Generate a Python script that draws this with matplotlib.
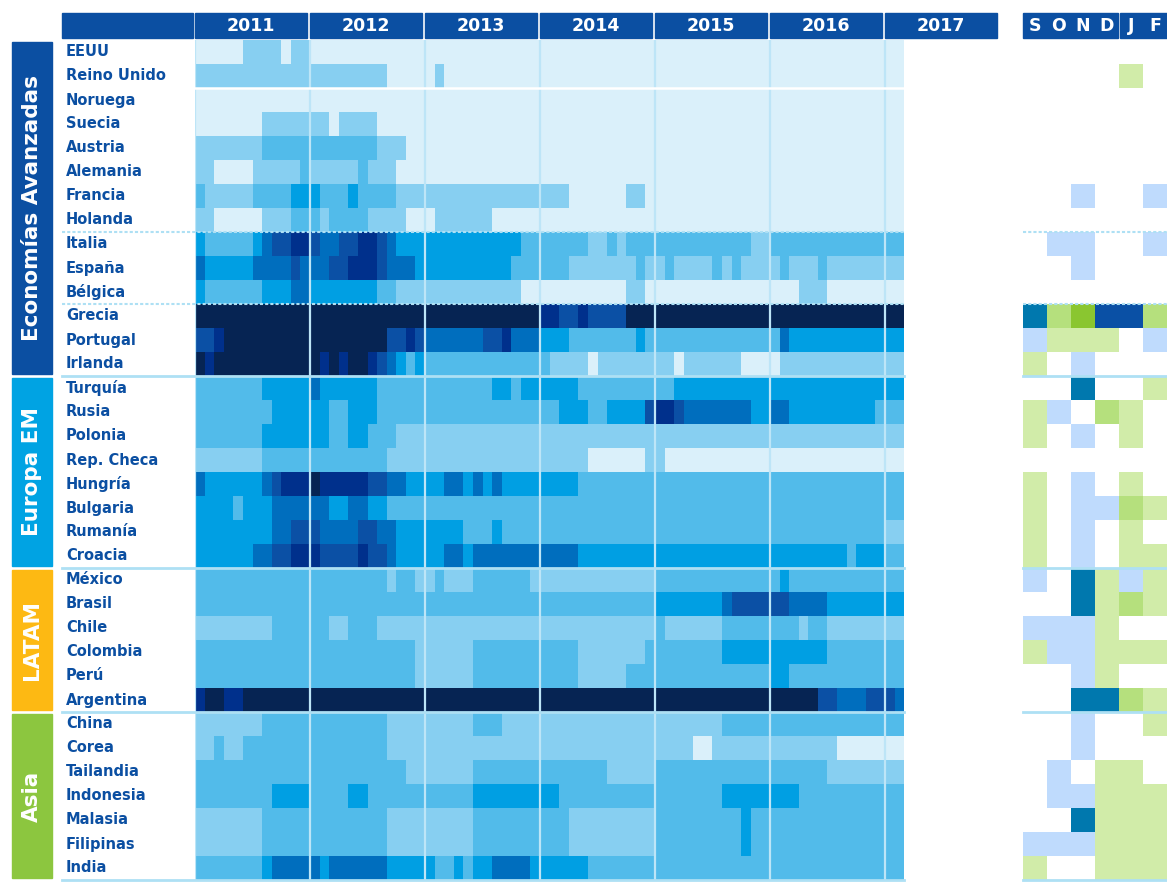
import numpy as np
import matplotlib.pyplot as plt
from matplotlib.colors import ListedColormap, BoundaryNorm
from matplotlib.patches import Rectangle

# ---- data -------------------------------------------------------------
years = ["2011", "2012", "2013", "2014", "2015", "2016", "2017"]
recent_months = ["S", "O", "N", "D", "J", "F"]
groups = ["Economías Avanzadas", "Europa EM", "LATAM", "Asia"]

adv_countries = ["EEUU", "Reino Unido", "Noruega", "Suecia", "Austria", "Alemania",
                 "Francia", "Holanda", "Italia", "España", "Bélgica", "Grecia",
                 "Portugal", "Irlanda"]
em_countries = ["Turquía", "Rusia", "Polonia", "Rep. Checa", "Hungría", "Bulgaria",
                "Rumanía", "Croacia"]
latam_countries = ["México", "Brasil", "Chile", "Colombia", "Perú", "Argentina"]
asia_countries = ["China", "Corea", "Tailandia", "Indonesia", "Malasia", "Filipinas",
                  "India"]

# monthly risk level 0 (low) .. 7 (high), Jan-2011 .. Feb-2017, grouped by year
adv_levels = [
    "000001111011 000000000000 000000000000 000000000000 000000000000 000000000000 00",
    "111111111111 111111110000 010000000000 000000000000 000000000000 000000000000 00",
    "000000000000 000000000000 000000000000 000000000000 000000000000 000000000000 00",
    "000000011111 110111100000 000000000000 000000000000 000000000000 000000000000 00",
    "111111122222 222222211100 000000000000 000000000000 000000000000 000000000000 00",
    "110000111112 111112111000 000000000000 000000000000 000000000000 000000000000 00",
    "211111222233 322232222111 111111111111 111000000110 000000000000 000000000000 00",
    "110000011122 212222111100 011111100000 000000000000 000000000000 000000000000 00",
    "322222345566 544556654333 333333333322 222221121222 222222222211 222222222222 22",
    "433333444454 445566654443 333333333222 222111111121 121111212111 121112111111 11",
    "322222233344 333333322111 111111111100 000000000110 000000000000 000111000000 00",
    "777777777777 777777777777 777777777777 665565555777 777777777777 777777777777 77",
    "556777777777 777777775565 444444556444 333222222232 222222222222 243333333333 33",
    "767777777777 767677654323 222222222222 211110111111 110111111000 011111111111 11",
]
em_levels = [
    "222222233333 433333322222 222222233233 333322222222 223333333333 333333333333 33",
    "222222223333 332233322222 222222222222 223332233335 665444444433 443333333332 22",
    "222222233333 332233222111 111111111111 111111111111 111111111111 111111111111 11",
    "111111122222 222222221111 111111111111 111110000001 100000000000 000000000000 00",
    "433333345666 766666554433 334434343333 333322222222 222222222222 222222222222 22",
    "333323334444 443344332222 222222222222 222222222222 222222222222 222222222222 22",
    "333333334455 544445544333 333322232222 222222222222 222222222222 222222222222 11",
    "333333445566 655556554333 334434444444 444433333333 333333333333 333333332333 22",
]
latam_levels = [
    "222222222222 222222221221 121112222221 111111111111 222222222222 232222222222 22",
    "222222222222 222222222222 222222222222 222222222222 333333345555 554444333333 33",
    "111111112222 221122211111 111111111111 111111111111 211111122222 222122111111 11",
    "222222222222 222222222221 111112222222 222211111112 222222233333 333333222222 22",
    "222222222222 222222222221 111112222222 222211111222 222222222222 332222222222 22",
    "677667777777 777777777777 777777777777 777777777777 777777777777 777775544455 54",
]
asia_levels = [
    "111111122222 222222221111 111112221111 111111111111 111111122222 222222222222 22",
    "112112222222 222222221111 111111111111 111111111111 111100111111 111111100000 00",
    "222222222222 222222222211 111112222222 222222211111 222222222222 222222111111 11",
    "222222223333 222233222222 222223333333 332222222222 222222233333 333222222222 22",
    "111111122222 222222221111 111112222222 222111111111 222222222322 222222222222 22",
    "111111122222 222222221111 111112222222 222111111111 222222222322 222222222222 22",
    "222222234444 434444443333 322323344443 333332222222 222222222222 222222222222 22",
]

# last six months (S O N D J F); '.' = no signal
adv_recent = ["......", "....a.", "......", "......", "......", "......", "..f..f",
              "......", ".ff..f", "..f...", "......", "dbceeb", "faaa.f", "a.f..."]
em_recent = ["..d..a", "af.ba.", "a.f.a.", "......", "a.f.a.", "a.ffba", "a.f.a.", "a.f.aa"]
latam_recent = ["f.dafa", "..daba", "fffa..", "affaaa", "..fa..", "..ddba"]
asia_recent = ["..f..a", "..f...", ".f.aa.", ".ffaaa", "..daaa", "fffaaa", "a..aaa"]

# ---- styling ----------------------------------------------------------
level_colors = ["#DAF0FA", "#87CFF1", "#52BBEA", "#009FE3",
                "#006EBE", "#0B50A5", "#00308C", "#062453"]
recent_colors = {"a": "#D1ECA9", "b": "#B5E07D", "c": "#8AC630",
                 "d": "#0078AE", "e": "#0A50A5", "f": "#BFDBFD"}
group_colors = ["#0B4FA2", "#00A3E3", "#FDB913", "#8CC63F"]
header_blue = "#0B4FA2"
line_blue = "#AEE0F4"

plt.rcParams["font.family"] = ["DejaVu Sans"]

country_lists = [adv_countries, em_countries, latam_countries, asia_countries]
level_lists = [adv_levels, em_levels, latam_levels, asia_levels]
recent_lists = [adv_recent, em_recent, latam_recent, asia_recent]

countries = sum(country_lists, [])
grid = np.array([[int(c) for c in "".join(s.split())] for s in sum(level_lists, [])])
recent = sum(recent_lists, [])
n_rows, n_months = grid.shape

W, H = 1167, 885
fig = plt.figure(figsize=(W / 100, H / 100), dpi=100)

# main heatmap: x in months since Jan-2011, y in rows
ax = fig.add_axes([195 / W, 1 - 880 / H, 805 / W, 840 / H])
ax.set_xlim(0, 84)
ax.set_ylim(n_rows, 0)
ax.axis("off")

cmap = ListedColormap(level_colors)
norm = BoundaryNorm(np.arange(-0.5, 8.5), cmap.N)
ax.pcolormesh(np.arange(n_months + 1), np.arange(n_rows + 1), grid,
              cmap=cmap, norm=norm, shading="flat")

# year header
ax.add_patch(Rectangle((-13.9, -1.13), 13.7, 1.06, color=header_blue, clip_on=False))
for i, yr in enumerate(years):
    ax.add_patch(Rectangle((i * 12, -1.13), 11.7, 1.06, color=header_blue, clip_on=False))
    ax.text(i * 12 + 5.85, -0.58, yr, color="white", fontsize=12.5, fontweight="bold",
            ha="center", va="center", clip_on=False)

# year dividers
for i in range(len(years)):
    ax.plot([i * 12, i * 12], [0, n_rows], color="#BDE5F7", lw=1.6, zorder=3)

# country names
for r, name in enumerate(countries):
    ax.text(-13.45, r + 0.5, name, color=header_blue, fontsize=10.5, fontweight="bold",
            ha="left", va="center", clip_on=False)

# group boxes and separators
start = 0
for g, (label, names) in enumerate(zip(groups, country_lists)):
    end = start + len(names)
    ax.add_patch(Rectangle((-19.1, start + 0.08), 4.18, len(names) - 0.16,
                           color=group_colors[g], clip_on=False))
    ax.text(-17.0, (start + end) / 2, label, rotation=90, color="white", fontsize=15.5,
            fontweight="bold", ha="center", va="center", clip_on=False)
    ax.plot([-13.9, n_months], [end, end], color=line_blue, lw=2, clip_on=False, zorder=4)
    start = end

for r in [8, 11]:
    ax.plot([-13.9, n_months], [r, r], color=line_blue, lw=1.5, ls=(0, (1.5, 1)),
            clip_on=False, zorder=4)
ax.plot([0, n_months], [2, 2], color="white", lw=1.8, zorder=4)

# recent months panel
ax2 = fig.add_axes([1023 / W, 1 - 880 / H, 144 / W, 840 / H])
ax2.set_xlim(0, 6)
ax2.set_ylim(n_rows, 0)
ax2.axis("off")

codes = list(recent_colors)
recent_idx = np.array([[codes.index(c) if c in codes else -1 for c in row] for row in recent])
recent_masked = np.ma.masked_less(recent_idx, 0)
ax2.pcolormesh(np.arange(7), np.arange(n_rows + 1), recent_masked,
               cmap=ListedColormap([recent_colors[c] for c in codes]),
               norm=BoundaryNorm(np.arange(-0.5, len(codes) + 0.5), len(codes)),
               shading="flat")

ax2.add_patch(Rectangle((0, -1.13), 3.96, 1.06, color=header_blue, clip_on=False))
ax2.add_patch(Rectangle((4.06, -1.13), 1.94, 1.06, color=header_blue, clip_on=False))
for i, m in enumerate(recent_months):
    ax2.text(i + 0.5, -0.58, m, color="white", fontsize=12.5, fontweight="bold",
             ha="center", va="center", clip_on=False)

start = 0
for names in country_lists:
    start += len(names)
    ax2.plot([0, 6], [start, start], color=line_blue, lw=2, clip_on=False)
for r in [8, 11]:
    ax2.plot([0, 6], [r, r], color=line_blue, lw=1.5, ls=(0, (1.5, 1)), clip_on=False)

fig.savefig("out.png", dpi=100, facecolor="white")
